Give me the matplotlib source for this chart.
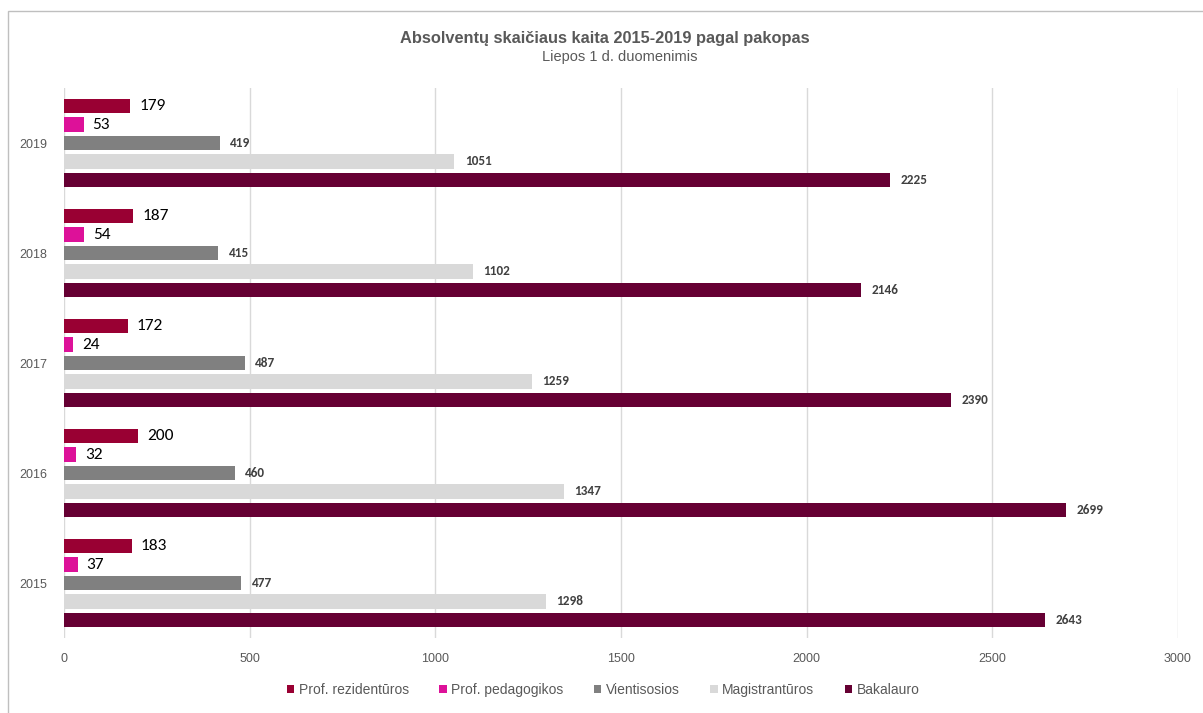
import numpy as np
import matplotlib.pyplot as plt
from matplotlib.patches import Rectangle

plt.rcParams['font.family'] = ['Liberation Sans', 'DejaVu Sans']

years = ['2015', '2016', '2017', '2018', '2019']
series = ['Prof. rezidentūros', 'Prof. pedagogikos', 'Vientisosios', 'Magistrantūros', 'Bakalauro']
rezid = [183, 200, 172, 187, 179]
pedag = [37, 32, 24, 54, 53]
vient = [477, 460, 487, 415, 419]
magis = [1298, 1347, 1259, 1102, 1051]
bakal = [2643, 2699, 2390, 2146, 2225]
colors = ['#990033', '#DD1199', '#808080', '#D9D9D9', '#660033']

fig = plt.figure(figsize=(12.03, 7.13), dpi=100)
ax = fig.add_axes([64/1203, 1 - 638/713, 1114/1203, 550/713])

# frame around chart
fig.patches.append(Rectangle((8/1203, -0.01), 1.1, 1 - 11/713 + 0.01, transform=fig.transFigure,
                             fill=False, edgecolor='#BFBFBF', linewidth=1))

y = np.arange(len(years))
step = 0.168
h = 0.13
vals = [rezid, pedag, vient, magis, bakal]
lab_font = ['Carlito', 'Liberation Sans', 'DejaVu Sans']
for k, (name, v, c) in enumerate(zip(series, vals, colors)):
    pos = y + (2 - k) * step
    ax.barh(pos, v, height=h, color=c, label=name)
    for p, val in zip(pos, v):
        if k < 2:
            ax.text(val + 24, p, str(val), va='center', ha='left', fontsize=12.5,
                    color='black', family=lab_font)
        else:
            ax.text(val + 28, p, str(val), va='center', ha='left', fontsize=9.5,
                    color='#404040', fontweight='bold', family=lab_font)

ax.set_xlim(0, 3000)
ax.set_ylim(-0.5, 4.5)
ax.set_xticks(np.arange(0, 3001, 500))
ax.set_yticks(y)
ax.set_yticklabels(years)
ax.tick_params(axis='both', length=0, labelsize=9, labelcolor='#595959')
ax.tick_params(axis='x', pad=11)
ax.tick_params(axis='y', pad=12)
ax.grid(axis='x', color='#D9D9D9', linewidth=1)
ax.set_axisbelow(True)
for s in ax.spines.values():
    s.set_visible(False)

fig.text(605/1203, 1 - 38/713, 'Absolventų skaičiaus kaita 2015-2019 pagal pakopas', ha='center', va='center',
         fontsize=11.8, fontweight='bold', color='#595959')
fig.text(620/1203, 1 - 57/713, 'Liepos 1 d. duomenimis', ha='center', va='center',
         fontsize=10.5, color='#595959')

leg = fig.legend(loc='center', bbox_to_anchor=(603/1203, 1 - 690/713), ncol=5, frameon=False,
                 fontsize=10, handlelength=0.55, handleheight=0.55, handletextpad=0.3, columnspacing=2.2)
for t in leg.get_texts():
    t.set_color('#595959')

fig.savefig('out.png', dpi=100)
